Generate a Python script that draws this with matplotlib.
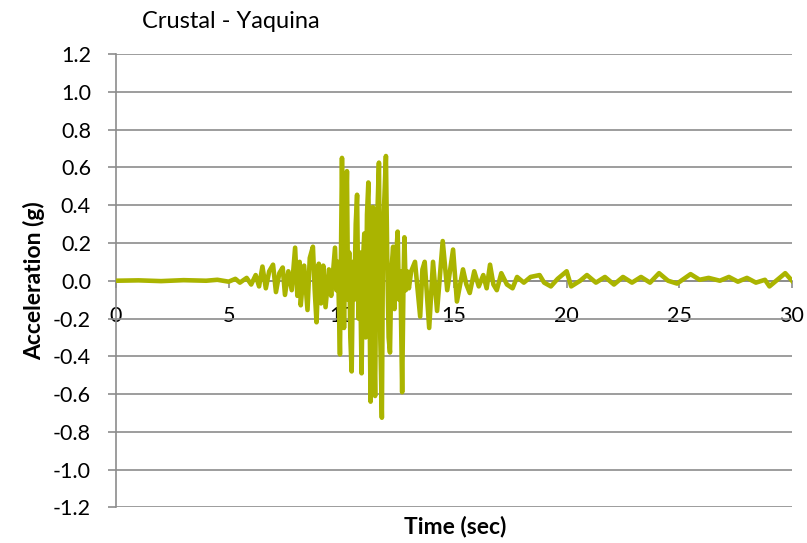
import matplotlib
matplotlib.use('Agg')
import matplotlib.pyplot as plt

# Ground motion record (time in s, acceleration in g)
time_s = [0.0, 1.0, 2.0, 3.0, 4.0, 4.5, 5.0, 5.3, 5.5, 5.8, 6.0, 6.2, 6.35, 6.5,
          6.65, 6.8, 6.97, 7.1, 7.25, 7.4, 7.5, 7.65, 7.8, 7.95, 8.05, 8.15, 8.2,
          8.35, 8.5, 8.6, 8.74, 8.82, 8.9, 9.0, 9.1, 9.2, 9.3, 9.45, 9.55, 9.72,
          9.78, 9.85, 9.94, 10.03, 10.08, 10.12, 10.18, 10.25, 10.3, 10.35, 10.4,
          10.46, 10.52, 10.58, 10.64, 10.7, 10.76, 10.82, 10.9, 10.96, 11.02, 11.08,
          11.14, 11.2, 11.25, 11.3, 11.35, 11.4, 11.45, 11.5, 11.55, 11.6, 11.67,
          11.73, 11.8, 11.85, 11.9, 11.98, 12.04, 12.1, 12.16, 12.22, 12.3, 12.36,
          12.42, 12.5, 12.56, 12.62, 12.7, 12.76, 12.8, 12.86, 12.92, 13.0, 13.1,
          13.27, 13.5, 13.6, 13.7, 13.9, 14.07, 14.25, 14.5, 14.7, 14.96, 15.13,
          15.4, 15.55, 15.7, 15.9, 16.1, 16.3, 16.45, 16.6, 16.75, 16.9, 17.1,
          17.35, 17.6, 17.8, 18.1, 18.4, 18.8, 19.0, 19.3, 19.6, 20.0, 20.2, 20.6,
          20.9, 21.3, 21.7, 22.1, 22.5, 22.9, 23.3, 23.7, 24.1, 24.5, 24.9, 25.5,
          25.9, 26.3, 26.8, 27.2, 27.6, 28.0, 28.4, 28.8, 29.0, 29.4, 29.7, 30.0]
accel_g = [0.0, 0.002, -0.002, 0.003, 0.0, 0.005, -0.005, 0.01, -0.01, 0.015, -0.02,
           0.03, -0.03, 0.075, -0.04, 0.05, 0.085, -0.06, 0.04, 0.07, -0.075, 0.05,
           -0.05, 0.175, -0.08, 0.10, -0.13, 0.08, -0.155, 0.12, 0.18, -0.05, -0.22,
           0.09, -0.12, 0.08, -0.14, 0.06, -0.08, 0.175, -0.05, 0.1, -0.39, 0.65,
           0.1, -0.25, 0.2, 0.58, -0.1, 0.15, -0.3, -0.48, 0.1, -0.1, 0.3, 0.455,
           -0.2, 0.15, -0.49, 0.1, 0.25, -0.3, 0.35, 0.52, -0.1, -0.64, 0.2, 0.39,
           -0.3, -0.61, 0.1, 0.35, 0.625, -0.3, -0.725, 0.2, 0.4, 0.66, 0.1, -0.3,
           -0.38, 0.05, 0.18, -0.15, 0.1, 0.26, -0.1, 0.05, -0.59, 0.0, 0.23, -0.05,
           0.05, -0.04, 0.05, 0.10, -0.19, 0.06, 0.10, -0.25, 0.10, -0.16, 0.21,
           -0.05, 0.165, -0.11, 0.06, -0.02, -0.065, 0.05, -0.03, 0.03, -0.04,
           0.085, -0.02, -0.05, 0.04, -0.02, -0.04, 0.02, -0.01, 0.02, 0.03, -0.01,
           -0.03, 0.01, 0.05, -0.03, 0.0, 0.03, -0.01, 0.02, -0.02, 0.02, -0.01,
           0.02, -0.01, 0.04, 0.0, -0.015, 0.035, 0.005, 0.015, 0.0, 0.02, -0.005,
           0.015, -0.01, 0.005, -0.03, 0.01, 0.04, 0.0]

x_ticks = [0, 5, 10, 15, 20, 25, 30]
y_ticks = [-1.2, -1.0, -0.8, -0.6, -0.4, -0.2, 0.0, 0.2, 0.4, 0.6, 0.8, 1.0, 1.2]
y_tick_labels = ['-1.2', '-1.0', '-0.8', '-0.6', '-0.4', '-0.2', '0.0',
                 '0.2', '0.4', '0.6', '0.8', '1.0', '1.2']

plt.rcParams['font.family'] = ['Lato', 'DejaVu Sans']
grey = '#8c8c8c'

fig = plt.figure(figsize=(8.07, 5.43), dpi=100)
ax = fig.add_axes([0.1437, 0.0654, 0.8377, 0.8352])

ax.plot(time_s, accel_g, color='#aab400', linewidth=3.3, zorder=3,
        solid_joinstyle='round')

ax.set_xlim(0, 30)
ax.set_ylim(-1.2, 1.2)
ax.set_xticks(x_ticks)
ax.set_yticks(y_ticks)
ax.set_yticklabels(y_tick_labels)

# Excel-like axes: left axis plus a horizontal axis through zero
for side in ['top', 'right']:
    ax.spines[side].set_visible(False)
ax.spines['left'].set_color(grey)
ax.spines['left'].set_linewidth(1.2)
ax.spines['bottom'].set_position(('data', 0))
ax.spines['bottom'].set_color(grey)
ax.spines['bottom'].set_linewidth(1.2)

ax.yaxis.grid(True, color=grey, linewidth=1.2)
ax.set_axisbelow(True)

ax.tick_params(axis='y', direction='out', length=6, width=1.2, color=grey,
               pad=12, labelsize=15.5)
ax.tick_params(axis='x', direction='out', length=5, width=1.2, color=grey,
               pad=13, labelsize=15.5)

ax.set_xlabel('Time (sec)', fontsize=16.5, fontweight='bold')
ax.xaxis.set_label_coords(0.5015, -0.018)
ax.set_ylabel('Acceleration (g)', fontsize=16.5, fontweight='bold')
ax.yaxis.set_label_coords(-0.105, 0.5)

fig.text(0.286, 0.9595, 'Crustal - Yaquina', fontsize=17, ha='center', va='center')

fig.savefig('out.png', dpi=100)
